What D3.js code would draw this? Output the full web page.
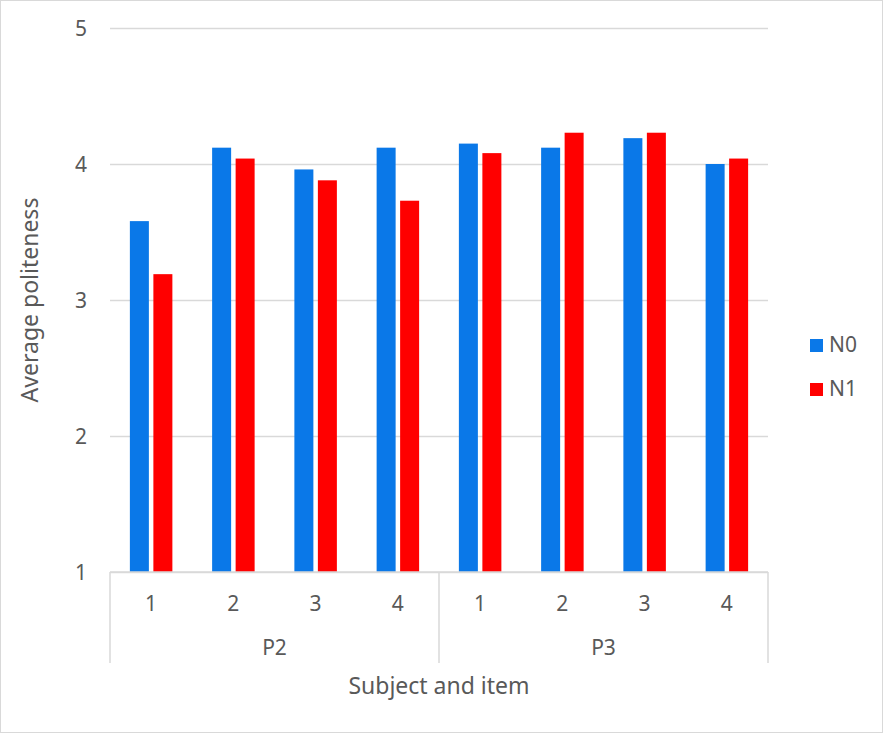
<!DOCTYPE html>
<html>
<head>
<meta charset="utf-8">
<script src="https://cdn.jsdelivr.net/npm/d3@7"></script>
<style>
  html, body { margin: 0; padding: 0; background: #fff; }
  svg { display: block; font-family: "Noto Sans", "Open Sans", sans-serif; }
</style>
</head>
<body>
<svg id="chart" width="883" height="733"></svg>
<script>
// Subjects and the items shown under each
const subjects = ["P2", "P3"];
const items = ["1", "2", "3", "4"];
const seriesNames = ["N0", "N1"];
// Average politeness per subject/item (P2 items 1-4, then P3 items 1-4)
const n0Values = [3.58, 4.12, 3.96, 4.12, 4.15, 4.12, 4.19, 4.00];
const n1Values = [3.19, 4.04, 3.88, 3.73, 4.08, 4.23, 4.23, 4.04];
const yTicks = [1, 2, 3, 4, 5];
const colors = ["#0A78E8", "#FF0000"];

const svg = d3.select("#chart");
const textColor = "#595959";
const gridColor = "#d9d9d9";

const plot = { left: 110, right: 768, top: 28, bottom: 572 };

// One slot per subject/item pair
const rows = [];
subjects.forEach(s => items.forEach(it => rows.push({ subject: s, item: it, key: s + "-" + it })));
rows.forEach((r, i) => { r.values = [n0Values[i], n1Values[i]]; });

const x0 = d3.scaleBand().domain(rows.map(r => r.key)).range([plot.left, plot.right]).padding(0);
const bw = x0.bandwidth();
const x1 = d3.scaleBand().domain(seriesNames)
  .range([bw / 2 - 21.25, bw / 2 + 21.25]).paddingInner(0.1915);
const y = d3.scaleLinear().domain([1, 5]).range([plot.bottom, plot.top]);

// Outer frame
svg.append("rect").attr("x", 0.5).attr("y", 0.5).attr("width", 882).attr("height", 732)
  .attr("fill", "none").attr("stroke", gridColor).attr("stroke-width", 1);

// Horizontal gridlines and value labels
const yAxis = d3.axisLeft(y).tickValues(yTicks).tickSize(-(plot.right - plot.left)).tickPadding(23)
  .tickFormat(d3.format("d"));
const ya = svg.append("g").attr("transform", `translate(${plot.left},0)`).call(yAxis);
ya.select(".domain").remove();
ya.selectAll(".tick line").attr("stroke", gridColor).attr("stroke-width", 1.5);
ya.selectAll(".tick text").attr("fill", textColor).style("font-size", "21px")
  .style("font-family", "Noto Sans").attr("dy", "0.36em");

// Bars
const groups = svg.append("g").selectAll("g").data(rows).join("g")
  .attr("transform", d => `translate(${x0(d.key)},0)`);
groups.selectAll("rect").data(d => d.values.map((v, i) => ({ name: seriesNames[i], v, i })))
  .join("rect")
  .attr("x", d => x1(d.name))
  .attr("width", x1.bandwidth())
  .attr("y", d => y(d.v))
  .attr("height", d => y(1) - y(d.v))
  .attr("fill", d => colors[d.i]);

// Category axis: baseline, item labels, subject dividers and labels
const axisG = svg.append("g");
axisG.append("line").attr("x1", plot.left).attr("x2", plot.right)
  .attr("y1", plot.bottom).attr("y2", plot.bottom)
  .attr("stroke", gridColor).attr("stroke-width", 1.5);
const dividerX = [plot.left, (plot.left + plot.right) / 2, plot.right];
axisG.selectAll("line.div").data(dividerX).join("line").attr("class", "div")
  .attr("x1", d => d).attr("x2", d => d).attr("y1", plot.bottom).attr("y2", 663)
  .attr("stroke", gridColor).attr("stroke-width", 1.5);
axisG.selectAll("text.item").data(rows).join("text").attr("class", "item")
  .attr("x", d => x0(d.key) + bw / 2).attr("y", 611)
  .attr("text-anchor", "middle").attr("fill", textColor).style("font-size", "21px")
  .text(d => d.item);
const subjX = d3.scaleBand().domain(subjects).range([plot.left, plot.right]);
axisG.selectAll("text.subj").data(subjects).join("text").attr("class", "subj")
  .attr("x", d => subjX(d) + subjX.bandwidth() / 2).attr("y", 655)
  .attr("text-anchor", "middle").attr("fill", textColor).style("font-size", "21px")
  .text(d => d);

// Axis titles
svg.append("text").attr("x", (plot.left + plot.right) / 2).attr("y", 694)
  .attr("text-anchor", "middle").attr("fill", textColor).style("font-size", "23px")
  .text("Subject and item");
svg.append("text").attr("transform", "translate(38,300) rotate(-90)")
  .attr("text-anchor", "middle").attr("fill", textColor).style("font-size", "23px")
  .text("Average politeness");

// Legend
const legend = svg.append("g").selectAll("g").data(seriesNames).join("g")
  .attr("transform", (d, i) => `translate(810,${339 + i * 44})`);
legend.append("rect").attr("width", 13).attr("height", 13).attr("fill", (d, i) => colors[i]);
legend.append("text").attr("x", 19).attr("y", 13).attr("fill", textColor)
  .style("font-size", "21px").text(d => d);
</script>
</body>
</html>
